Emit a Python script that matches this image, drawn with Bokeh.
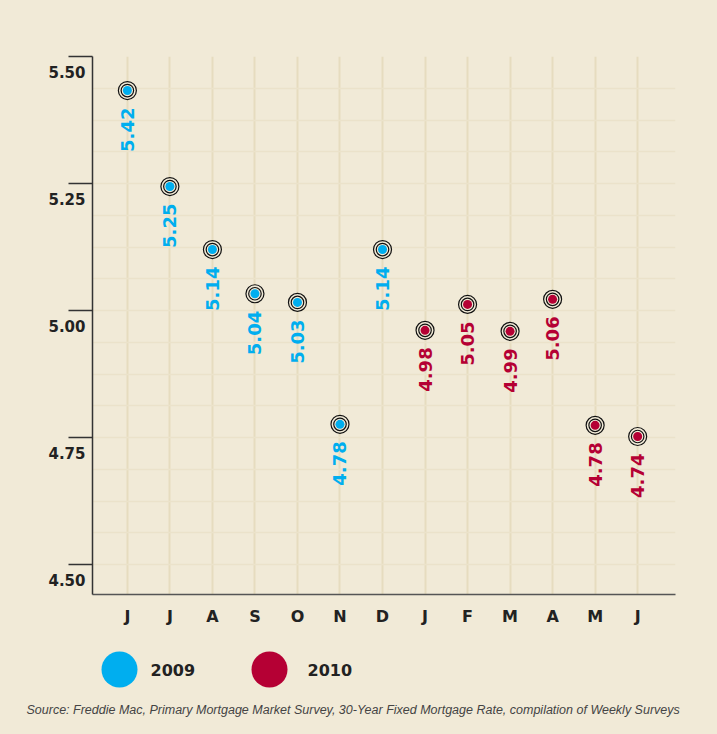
import numpy as np
from bokeh.plotting import figure
from bokeh.models import Range1d, FixedTicker, ColumnDataSource, Title
from bokeh.layouts import column
from bokeh.embed import file_html
from bokeh.resources import INLINE
from bokeh.core.properties import value

# ---------------- data ----------------
months = ["J", "J", "A", "S", "O", "N", "D", "J", "F", "M", "A", "M", "J"]
labels_2009 = ["5.42", "5.25", "5.14", "5.04", "5.03", "4.78", "5.14"]
rate_2009 = [5.433, 5.244, 5.120, 5.033, 5.016, 4.776, 5.120]
labels_2010 = ["4.98", "5.05", "4.99", "5.06", "4.78", "4.74"]
rate_2010 = [4.961, 5.012, 4.959, 5.022, 4.774, 4.752]
y_ticks = [4.50, 4.75, 5.00, 5.25, 5.50]
y_tick_labels = ["4.50", "4.75", "5.00", "5.25", "5.50"]
series = ["2009", "2010"]
colors = ["#00aeef", "#b50034"]
source_text = ("Source: Freddie Mac, Primary Mortgage Market Survey, "
               "30-Year Fixed Mortgage Rate, compilation of Weekly Surveys")

# ---------------- style ----------------
BG = "#f1ead7"
VGRID = "#e6dcbf"
HGRID = "#ebe2ca"
DARK = "#222222"
FONT = value("DejaVu Sans")

p = figure(width=717, height=640, output_backend="svg", toolbar_location=None,
           x_range=Range1d(-0.82, 12.89), y_range=Range1d(4.441, 5.50),
           min_border_left=92, min_border_right=42, min_border_top=56,
           min_border_bottom=46,
           background_fill_color=None, border_fill_color=BG,
           outline_line_color=None)

# x axis
xt = list(range(len(months)))
p.xaxis.ticker = FixedTicker(ticks=xt)
p.xaxis.major_label_overrides = {i: m for i, m in enumerate(months)}
p.xaxis.major_tick_out = 0
p.xaxis.major_tick_in = 0
p.xaxis.minor_tick_line_color = None
p.xaxis.axis_line_color = "#555555"
p.xaxis.axis_line_width = 1.5
p.xaxis.major_label_standoff = 12
p.xaxis.major_label_text_font = "DejaVu Sans"
p.xaxis.major_label_text_font_style = "bold"
p.xaxis.major_label_text_font_size = "16px"
p.xaxis.major_label_text_color = DARK

# y axis: outward ticks, label sits just below each tick (second line)
p.yaxis.ticker = FixedTicker(ticks=y_ticks)
p.yaxis.major_label_overrides = {v: "\n" + t for v, t in zip(y_ticks, y_tick_labels)}
p.yaxis.major_label_text_line_height = 1.85
p.yaxis.major_tick_out = 24
p.yaxis.major_tick_in = 0
p.yaxis.minor_tick_line_color = None
p.yaxis.major_tick_line_color = "#333333"
p.yaxis.major_tick_line_width = 1.3
p.yaxis.axis_line_color = "#333333"
p.yaxis.axis_line_width = 1.5
p.yaxis.major_label_standoff = -17
p.yaxis.major_label_text_font = "DejaVu Sans"
p.yaxis.major_label_text_font_style = "bold"
p.yaxis.major_label_text_font_size = "15px"
p.yaxis.major_label_text_color = DARK

# grid
p.xgrid.ticker = FixedTicker(ticks=xt)
p.xgrid.grid_line_color = VGRID
p.xgrid.grid_line_width = 2
minor_y = list(np.arange(4.4375, 5.5001, 0.0625))
p.ygrid.ticker = FixedTicker(ticks=minor_y)
p.ygrid.grid_line_color = HGRID
p.ygrid.grid_line_width = 1.5

# points
n09 = len(rate_2009)
groups = [
    (list(range(n09)), rate_2009, labels_2009, colors[0]),
    (list(range(n09, n09 + len(rate_2010))), rate_2010, labels_2010, colors[1]),
]
for xs, ys, labs, col in groups:
    src = ColumnDataSource(dict(x=xs, y=ys, t=labs))
    p.scatter("x", "y", source=src, size=18, fill_color=BG,
              line_color="#111111", line_width=1.2)
    p.scatter("x", "y", source=src, size=12.5, fill_color=BG,
              line_color="#111111", line_width=1.2)
    p.scatter("x", "y", source=src, size=9, fill_color=col, line_color=None)
    p.text("x", "y", text="t", source=src, angle=np.pi / 2,
           text_align="right", text_baseline="middle", y_offset=17,
           text_color=col, text_font=FONT, text_font_style="bold",
           text_font_size="18px")

# ---------------- legend + source ----------------
p2 = figure(width=717, height=94, output_backend="svg", toolbar_location=None,
            x_range=Range1d(0, 583), y_range=Range1d(0, 54),
            min_border_left=92, min_border_right=42, min_border_top=0,
            min_border_bottom=40,
            background_fill_color=None, border_fill_color=BG,
            outline_line_color=None)
p2.axis.visible = False
p2.grid.visible = False
legend_dot_x = [27, 177]
legend_text_x = [58, 215]
p2.scatter(legend_dot_x, [25, 25], size=36, fill_color=colors, line_color=None)
p2.text(legend_text_x, [25, 25], text=series, text_baseline="middle",
        text_align="left", text_color=DARK, text_font=FONT,
        text_font_style="bold", text_font_size="16px")
p2.add_layout(Title(text=source_text, align="left", offset=-66,
                    text_font="Liberation Sans", text_font_style="italic",
                    text_font_size="12.5px", text_color="#444444",
                    standoff=12), "below")

layout = column(p, p2, spacing=0, styles={"background-color": BG})
open("out.html", "w").write(file_html(layout, INLINE))
